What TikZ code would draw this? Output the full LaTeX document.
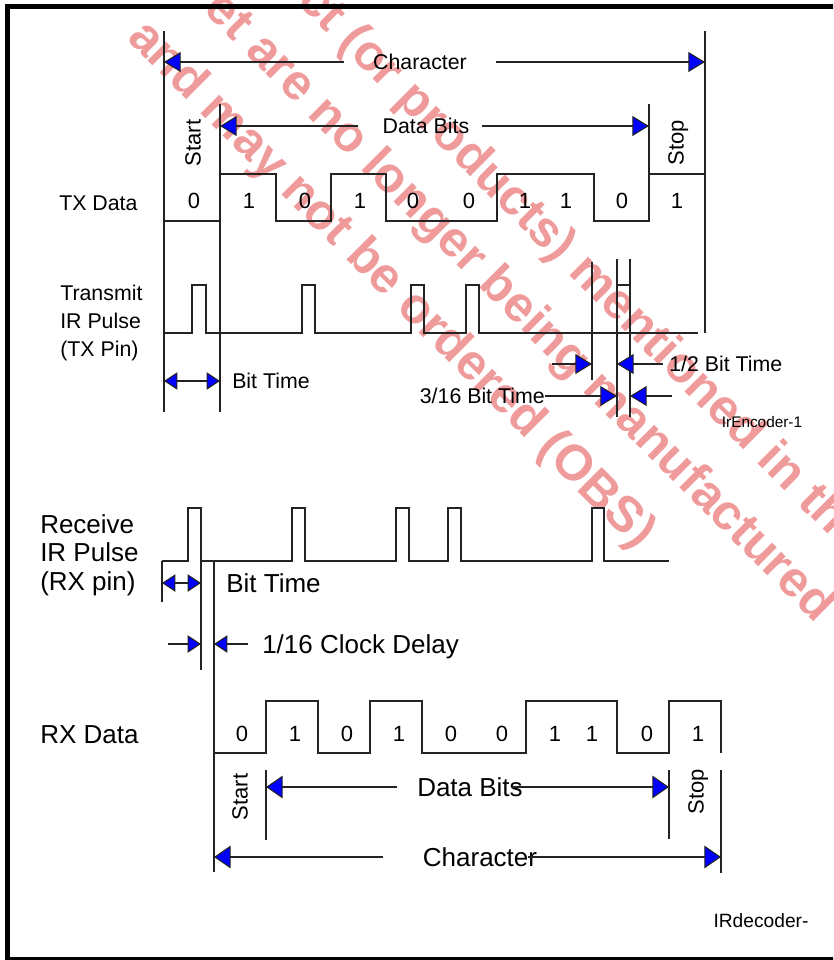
\documentclass[tikz,border=0pt]{standalone}
\usepackage{fontspec}
\setmainfont{Liberation Sans}
\usetikzlibrary{arrows.meta}

\definecolor{wmark}{RGB}{240,155,155}
\definecolor{ln}{RGB}{35,35,35}

\tikzset{
  wave/.style={draw=ln, line width=0.8pt},
  guide/.style={draw=ln, line width=0.8pt},
  dim/.style={draw=ln, line width=0.8pt, -{Triangle[length=12.5pt,width=15pt,fill=blue]}},
  dimrx/.style={draw=ln, line width=0.8pt, -{Triangle[length=12.5pt,width=17pt,fill=blue]}},
  dimsm/.style={draw=ln, line width=0.8pt, -{Triangle[length=10pt,width=13pt,fill=blue]}},
  twosm/.style={draw=ln, line width=0.8pt, {Triangle[length=10pt,width=13pt,fill=blue]}-{Triangle[length=10pt,width=13pt,fill=blue]}},
  txt/.style={font=\fontsize{16}{19}\selectfont, inner sep=0pt, text depth=0pt},
  rxt/.style={font=\fontsize{19.5}{22}\selectfont, inner sep=0pt, text depth=0pt},
  multi/.style={align=left, anchor=west, inner sep=0pt},
  bitv/.style={font=\fontsize{16.5}{19}\selectfont, inner sep=0pt, text depth=0pt},
  vtxt/.style={bitv, rotate=90},
  wmtext/.style={rotate=-45, text=wmark, font=\fontsize{37.5}{40}\selectfont\bfseries, inner sep=0pt}
}

\begin{document}
\begin{tikzpicture}[x=0.75pt,y=-0.75pt]
\useasboundingbox (0,0) rectangle (833,960);
\clip (0,0) rectangle (833,960);
% watermark behind the drawing
\node[wmtext, anchor=west] (wmA) at (305,-7) {ct (or products) mentioned in th};
\node[wmtext, anchor=east] (wmB) at (825,615) {et are no longer being manufactured};
\node[wmtext, anchor=west] (wmC) at (135,30) {and may not be ordered (OBS)};
% frame
\draw[line width=3.75pt] (7.5,6.5) rectangle (845,959);

% ---- transmit side ----
\draw[guide] (164,31) -- (164,412);
\draw[guide] (705,31) -- (705,333);
\draw[guide] (220,104) -- (220,412);
\draw[guide] (649,104) -- (649,221);

\node[txt] (chrT) at (420,62) {Character};
\coordinate (chrTl) at (344,62); \coordinate (chrTa) at (164,62);
\coordinate (chrTr) at (496,62); \coordinate (chrTb) at (705,62);
\draw[dim] (chrTl) -- (chrTa);
\draw[dim] (chrTr) -- (chrTb);

\node[txt] (dbT) at (426,126) {Data Bits};
\coordinate (dbTl) at (358,126); \coordinate (dbTa) at (220,126);
\coordinate (dbTr) at (482,126); \coordinate (dbTb) at (649,126);
\draw[dim] (dbTl) -- (dbTa);
\draw[dim] (dbTr) -- (dbTb);

\node[vtxt] (startT) at (193,143) {Start};
\node[vtxt] (stopT) at (676,143) {Stop};

\node[txt, anchor=west] (txdat) at (59,203) {TX Data};
\draw[wave] (164,221) -- (220,221) -- (220,174) -- (276,174) -- (276,221) -- (331,221) -- (331,174)
  -- (386,174) -- (386,221) -- (497,221) -- (497,174) -- (594,174) -- (594,221) -- (649,221)
  -- (649,174) -- (705,174);
\foreach \xx/\bb [count=\i] in {194/0,249/1,305/0,360/1,413/0,469/0,525/1,566/1,622/0,677/1}
  \node[bitv] (tb\i) at (\xx,201) {\bb};

\node[multi, font=\fontsize{16}{21}\selectfont] (txpin) at (60,323) {Transmit\\IR Pulse\\(TX Pin)};
\draw[wave] (164,333) -- (192,333) -- (192,285) -- (206,285) -- (206,333) -- (302,333) -- (302,285)
  -- (315,285) -- (315,333) -- (411,333) -- (411,285) -- (424,285) -- (424,333) -- (466,333)
  -- (466,285) -- (479,285) -- (479,333) -- (698,333);
\draw[wave] (617,285) -- (630,285);
\draw[guide] (592,262) -- (592,380);
\draw[guide] (617,259) -- (617,417);
\draw[guide] (630,259) -- (630,417);

\node[txt, anchor=west] (btT) at (232,381) {Bit Time};
\coordinate (btTa) at (164,381); \coordinate (btTb) at (220,381);
\draw[twosm] (btTa) -- (btTb);

\node[txt, anchor=west] (halfT) at (669,364) {1/2 Bit Time};
\coordinate (hfa) at (552,364); \coordinate (hfb) at (592,364);
\coordinate (hfc) at (663,364); \coordinate (hfd) at (617,364);
\draw[dim] (hfa) -- (hfb);
\draw[dim] (hfc) -- (hfd);

\node[txt, anchor=east] (q316) at (545,396) {3/16 Bit Time};
\coordinate (qa) at (617,396);
\coordinate (qb) at (672,396); \coordinate (qc) at (630,396);
\draw[dim] (q316) -- (qa);
\draw[dim] (qb) -- (qc);

\node[font=\fontsize{11.5}{13}\selectfont, inner sep=0pt] (enc) at (762,422) {IrEncoder-1};

% ---- receive side ----
\node[multi, font=\fontsize{19.5}{21.4}\selectfont] (rxpin) at (40,555) {Receive\\IR Pulse\\(RX pin)};
\draw[wave] (162,561) -- (188,561) -- (188,508) -- (201,508) -- (201,561) -- (292,561) -- (292,508)
  -- (305,508) -- (305,561) -- (396,561) -- (396,508) -- (409,508) -- (409,561) -- (448,561)
  -- (448,508) -- (461,508) -- (461,561) -- (592,561) -- (592,508) -- (604,508) -- (604,561)
  -- (669,561);
\draw[guide] (162,561) -- (162,602);
\draw[guide] (201,561) -- (201,670);
\draw[guide] (214,561) -- (214,872);

\node[rxt, anchor=west] (btR) at (226,583) {Bit Time};
\coordinate (btRa) at (162,583); \coordinate (btRb) at (201,583);
\draw[twosm] (btRa) -- (btRb);

\node[rxt, anchor=west] (clk) at (262,644) {1/16 Clock Delay};
\coordinate (cka) at (168,644); \coordinate (ckb) at (201,644);
\coordinate (ckc) at (248,644); \coordinate (ckd) at (214,644);
\draw[dimsm] (cka) -- (ckb);
\draw[dimsm] (ckc) -- (ckd);

\node[rxt, anchor=west] (rxdat) at (40,735) {RX Data};
\draw[wave] (214,753) -- (266,753) -- (266,701) -- (318,701) -- (318,753) -- (370,753) -- (370,701)
  -- (422,701) -- (422,753) -- (526,753) -- (526,701) -- (617,701) -- (617,753) -- (669,753)
  -- (669,701) -- (721,701) -- (721,753);
\foreach \xx/\bb [count=\i] in {242/0,295/1,347/0,399/1,451/0,502/0,555/1,592/1,647/0,698/1}
  \node[bitv] (rb\i) at (\xx,734) {\bb};

\draw[guide] (266,770) -- (266,840);
\draw[guide] (669,770) -- (669,839);
\draw[guide] (721,770) -- (721,873);
\node[vtxt] (startR) at (240,797) {Start};
\node[vtxt] (stopR) at (696,792) {Stop};

\node[rxt] (dbR) at (470,787) {Data Bits};
\coordinate (dbRl) at (397,787); \coordinate (dbRa) at (266,787);
\coordinate (dbRr) at (512,787); \coordinate (dbRb) at (669,787);
\draw[dimrx] (dbRl) -- (dbRa);
\draw[dimrx] (dbRr) -- (dbRb);

\node[rxt] (chrR) at (480,857) {Character};
\coordinate (chrRl) at (383,857); \coordinate (chrRa) at (214,857);
\coordinate (chrRr) at (528,857); \coordinate (chrRb) at (721,857);
\draw[dimrx] (chrRl) -- (chrRa);
\draw[dimrx] (chrRr) -- (chrRb);

\node[font=\fontsize{14.4}{16}\selectfont, inner sep=0pt] (dec) at (761,921) {IRdecoder-};
\end{tikzpicture}
\end{document}
